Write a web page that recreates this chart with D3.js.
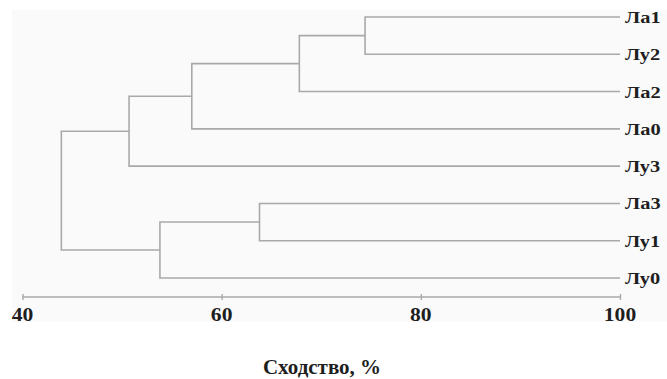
<!DOCTYPE html>
<html lang="ru">
<head>
<meta charset="UTF-8">
<title>Dendrogram</title>
<script src="https://cdn.jsdelivr.net/npm/d3@7"></script>
<style>
    body { margin: 0; background: #fff; }
    .link { fill: none; stroke: #a9a9a9; stroke-width: 1.6px; }
    .axis path, .axis line { stroke: #a9a9a9; stroke-width: 1.4px; }
    .lbl { font-family: "Liberation Serif", "Times New Roman", serif; font-weight: bold; fill: #1e1e1e; }
</style>
</head>
<body>
<div id="chart"></div>
<script>
    const width = 667;
    const height = 379;

    // leaves, top to bottom
    const leaves = ["Ла1", "Лу2", "Ла2", "Ла0", "Лу3", "Ла3", "Лу1", "Лу0"];
    // merges: [id, left, right, similarity %]
    const merges = [
        ["m1", "Ла1", "Лу2", 74.4],
        ["m2", "m1", "Ла2", 67.8],
        ["m3", "m2", "Ла0", 57.0],
        ["m4", "m3", "Лу3", 50.7],
        ["m5", "Ла3", "Лу1", 63.8],
        ["m6", "m5", "Лу0", 53.8],
        ["m7", "m4", "m6", 43.9]
    ];
    const tickValues = [40, 60, 80, 100];
    const axisTitle = "Сходство, %";

    const AXIS_Y = 297;

    const x = d3.scaleLinear().domain([40, 100]).range([22.5, 620]);
    const y = d3.scalePoint().domain(leaves).range([17, 278]);

    const svg = d3.select("#chart").append("svg")
        .attr("width", width)
        .attr("height", height);

    svg.append("rect")
        .attr("x", 12).attr("y", 10)
        .attr("width", width - 12).attr("height", 312)
        .attr("fill", "#fafafa");

    // node positions
    const nodes = {};
    leaves.forEach(function (name) {
        nodes[name] = { x: x(100), y: y(name) };
    });
    merges.forEach(function (m) {
        const a = nodes[m[1]], b = nodes[m[2]];
        nodes[m[0]] = { x: x(m[3]), y: (a.y + b.y) / 2 };
    });

    svg.selectAll("path.link")
        .data(merges)
        .enter()
        .append("path")
        .attr("class", "link")
        .attr("d", function (m) {
            const a = nodes[m[1]], b = nodes[m[2]], p = nodes[m[0]];
            return "M" + a.x + "," + a.y + "H" + p.x + "V" + b.y + "H" + b.x;
        });

    // leaf labels
    svg.selectAll("text.leaf")
        .data(leaves)
        .enter()
        .append("text")
        .attr("class", "lbl leaf")
        .attr("transform", function (d) {
            return "translate(625," + (y(d) + 6) + ") scale(1.2,1)";
        })
        .style("font-size", "17px")
        .text(function (d) { return d; });

    // axis
    const axis = svg.append("g")
        .attr("class", "axis")
        .attr("transform", "translate(0," + AXIS_Y + ")")
        .call(d3.axisBottom(x).tickValues(tickValues).tickSizeInner(6).tickSizeOuter(0).tickFormat(""));
    axis.selectAll(".tick line").attr("y1", -3).attr("y2", 3);
    axis.select(".domain").attr("d", "M" + x(40) + ",0H" + x(100));

    svg.selectAll("text.tick-lbl")
        .data(tickValues)
        .enter()
        .append("text")
        .attr("class", "lbl tick-lbl")
        .attr("text-anchor", "middle")
        .attr("transform", function (d) {
            return "translate(" + x(d) + ",320.5) scale(1.2,1)";
        })
        .style("font-size", "18px")
        .text(function (d) { return d; });

    svg.append("text")
        .attr("class", "lbl")
        .attr("text-anchor", "middle")
        .attr("transform", "translate(322,374) scale(1.05,1)")
        .style("font-size", "20px")
        .text(axisTitle);
</script>
</body>
</html>
